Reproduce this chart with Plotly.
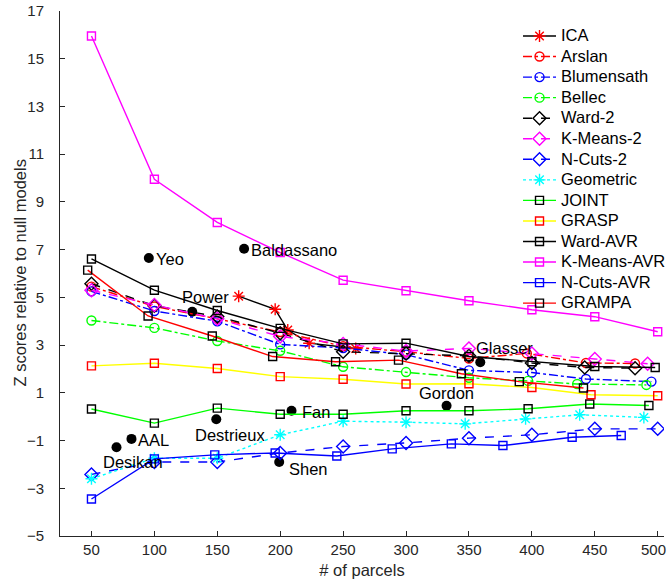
import plotly.graph_objects as go

# ---------------- data ----------------
ica_x = [167, 196, 206, 223, 260]
ica_y = [5.05, 4.50, 3.63, 3.08, 2.86]

arslan_x = [50, 100, 150, 200, 250, 300, 350, 396, 443, 482]
arslan_y = [5.45, 4.62, 4.10, 3.55, 2.95, 2.72, 2.44, 2.65, 2.25, 2.23]

blum_x = [50, 100, 150, 200, 250, 300, 350, 400, 443, 495]
blum_y = [5.25, 4.43, 4.00, 3.03, 2.88, 2.60, 1.94, 1.85, 1.58, 1.47]

bellec_x = [50, 100, 150, 200, 250, 300, 350, 397, 436, 491]
bellec_y = [4.03, 3.72, 3.17, 2.76, 2.09, 1.87, 1.63, 1.50, 1.37, 1.33]

ward2_x = [50, 100, 150, 200, 250, 300, 350, 400, 442, 482]
ward2_y = [5.57, 4.65, 4.20, 3.50, 2.72, 2.65, 2.55, 2.25, 2.06, 2.03]

km2_x = [50, 100, 150, 200, 250, 300, 350, 400, 450, 492]
km2_y = [5.30, 4.68, 4.10, 3.36, 3.05, 2.75, 2.86, 2.65, 2.42, 2.22]

nc2_x = [50, 100, 150, 200, 250, 300, 350, 400, 450, 500]
nc2_y = [-2.42, -1.90, -1.90, -1.52, -1.25, -1.10, -0.90, -0.76, -0.51, -0.51]

geo_x = [50, 100, 150, 200, 250, 300, 347, 395, 438, 489]
geo_y = [-2.60, -1.74, -1.74, -0.76, -0.19, -0.23, -0.30, -0.09, 0.08, -0.03]

joint_x = [50, 100, 150, 200, 250, 300, 350, 397, 446, 493]
joint_y = [0.32, -0.27, 0.36, 0.10, 0.10, 0.25, 0.25, 0.33, 0.53, 0.47]

grasp_x = [50, 100, 150, 200, 250, 300, 350, 400, 447, 500]
grasp_y = [2.13, 2.24, 2.02, 1.68, 1.57, 1.37, 1.38, 1.22, 0.92, 0.88]

wardavr_x = [50, 100, 150, 200, 250, 300, 350, 400, 450, 498]
wardavr_y = [6.61, 5.30, 4.45, 3.70, 3.05, 3.08, 2.52, 2.30, 2.10, 2.06]

kmavr_x = [50, 100, 150, 200, 250, 300, 350, 400, 450, 500]
kmavr_y = [15.95, 9.95, 8.14, 6.88, 5.72, 5.28, 4.86, 4.48, 4.19, 3.56]

ncavr_x = [50, 100, 148, 196, 245, 289, 336, 377, 432, 471]
ncavr_y = [-3.45, -1.77, -1.60, -1.52, -1.65, -1.35, -1.14, -1.21, -0.86, -0.79]

grampa_x = [47, 95, 146, 194, 244, 294, 344, 390, 441]
grampa_y = [6.14, 4.22, 3.38, 2.52, 2.30, 2.37, 1.80, 1.47, 1.20]

atlas_names = ["Yeo", "Baldassano", "Power", "Glasser", "Gordon",
               "Fan", "Destrieux", "AAL", "Desikan", "Shen"]
atlas_x = [95.6, 171.3, 130.1, 359.0, 332.2, 209.0, 149.2, 81.8, 69.9, 199.2]
atlas_y = [6.65, 7.04, 4.40, 2.28, 0.46, 0.25, -0.11, -0.93, -1.28, -1.90]
label_x = [99.5, 175.2, 120.2, 354.0, 308.7, 215.6, 130.5, 85.6, 57.4, 205.2]
label_y = [6.62, 7.00, 5.01, 2.87, 0.98, 0.19, -0.78, -0.99, -1.91, -2.20]

x_ticks = [50, 100, 150, 200, 250, 300, 350, 400, 450, 500]
x_tick_labels = ["50", "100", "150", "200", "250", "300", "350", "400", "450",
                 "500\u00a0\u00a0"]
y_ticks = [-5, -3, -1, 1, 3, 5, 7, 9, 11, 13, 15, 17]

RED = "#ff0000"; BLUE = "#0000ff"; GREEN = "#00ff00"; BLACK = "#000000"
MAG = "#ff00ff"; CYAN = "#00ffff"; YEL = "#ffff00"

series = [
    ("ICA", ica_x, ica_y, BLACK, "solid", "asterisk-open", RED, 10),
    ("Arslan", arslan_x, arslan_y, RED, "dashdot", "circle-open", RED, 9),
    ("Blumensath", blum_x, blum_y, BLUE, "dashdot", "circle-open", BLUE, 9),
    ("Bellec", bellec_x, bellec_y, GREEN, "dashdot", "circle-open", GREEN, 9),
    ("Ward-2", ward2_x, ward2_y, BLACK, "dash", "diamond-open", BLACK, 10),
    ("K-Means-2", km2_x, km2_y, MAG, "dash", "diamond-open", MAG, 10),
    ("N-Cuts-2", nc2_x, nc2_y, BLUE, "dash", "diamond-open", BLUE, 10),
    ("Geometric", geo_x, geo_y, CYAN, "dot", "asterisk-open", CYAN, 10),
    ("JOINT", joint_x, joint_y, GREEN, "solid", "square-open", BLACK, 8),
    ("GRASP", grasp_x, grasp_y, YEL, "solid", "square-open", RED, 8),
    ("Ward-AVR", wardavr_x, wardavr_y, BLACK, "solid", "square-open", BLACK, 8),
    ("K-Means-AVR", kmavr_x, kmavr_y, MAG, "solid", "square-open", MAG, 8),
    ("N-Cuts-AVR", ncavr_x, ncavr_y, BLUE, "solid", "square-open", BLUE, 8),
    ("GRAMPA", grampa_x, grampa_y, RED, "solid", "square-open", BLACK, 8),
]

FONT = "Arial, Liberation Sans, sans-serif"
TXT = "#262626"
fig = go.Figure()

# atlas dots
fig.add_trace(go.Scatter(x=atlas_x, y=atlas_y, mode="markers",
                         marker=dict(color="black", size=10, symbol="circle"),
                         showlegend=False, hoverinfo="skip"))

for name, xs, ys, lc, dash, sym, mc, ms in series:
    fig.add_trace(go.Scatter(
        x=xs, y=ys, mode="lines+markers",
        name=f'<span style="font-size:16.5px">{name}</span>',
        line=dict(color=lc, width=1.4, dash=dash),
        marker=dict(symbol=sym, color=mc, size=ms, line=dict(color=mc, width=1.4)),
    ))

for n, lx, ly in zip(atlas_names, label_x, label_y):
    fig.add_annotation(x=lx, y=ly, text=n, showarrow=False, xanchor="left",
                       yanchor="middle", font=dict(family=FONT, size=16.5, color="black"))

# y-axis title as rotated text
fig.add_annotation(x=0, xref="paper", y=0.5, yref="paper", xanchor="center",
                   yanchor="middle", xshift=-41, textangle=-90, showarrow=False,
                   text="Z scores relative to null models",
                   font=dict(family=FONT, size=16.5, color=TXT))

axis_common = dict(showgrid=False, zeroline=False, showline=True, linecolor=TXT,
                   linewidth=1, ticks="inside", ticklen=5, tickcolor=TXT,
                   tickfont=dict(family=FONT, size=15, color=TXT), mirror=False,
                   automargin=False, ticklabeloverflow="allow")

fig.update_xaxes(range=[25, 505], tickvals=x_ticks, ticktext=x_tick_labels,
                 ticklabelstandoff=0,
                 title=dict(text="# of parcels", font=dict(family=FONT, size=16.5, color=TXT),
                            standoff=7), **axis_common)
fig.update_yaxes(range=[-5, 17], tickvals=y_ticks, ticklabelstandoff=12,
                 **axis_common)

fig.update_layout(
    width=667, height=583,
    margin=dict(l=60, r=3, t=11, b=47, autoexpand=False),
    paper_bgcolor="white", plot_bgcolor="white",
    font=dict(family=FONT, size=14, color="black"),
    legend=dict(x=0.7583, y=0.9815, xanchor="left", yanchor="top",
                bgcolor="rgba(0,0,0,0)", borderwidth=0,
                itemwidth=33, font=dict(family=FONT, size=13.5, color="black")),
    showlegend=True,
)

fig.write_html("out.html", config={"displayModeBar": False},
               post_script="document.body.style.margin='0px';")
